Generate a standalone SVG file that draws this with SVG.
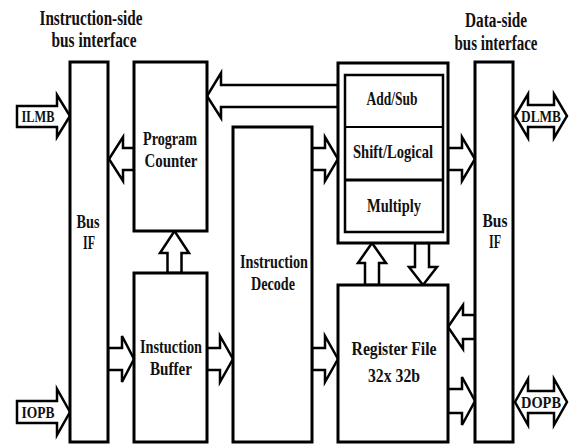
<svg xmlns="http://www.w3.org/2000/svg" width="571" height="445" viewBox="0 0 571 445">
<style>
.box{fill:#fff;stroke:#000;stroke-width:3}
.inner{fill:#fff;stroke:#000;stroke-width:2.5}
.arr{fill:#fff;stroke:#000;stroke-width:2.5;stroke-linejoin:miter}
.t{font-family:"Liberation Serif","Times New Roman",serif;font-weight:bold;fill:#111;text-anchor:middle}
.title{font-size:20px}
.lbl{font-size:19px}
.bus{font-size:16px}
</style>
<rect width="571" height="445" fill="#fff"/>
<g id="titles">
<text class="t title" x="91" y="25" textLength="103" lengthAdjust="spacingAndGlyphs">Instruction-side</text>
<text class="t title" x="94" y="47" textLength="85" lengthAdjust="spacingAndGlyphs">bus interface</text>
<text class="t title" x="496" y="27" textLength="62" lengthAdjust="spacingAndGlyphs">Data-side</text>
<text class="t title" x="496" y="50" textLength="83" lengthAdjust="spacingAndGlyphs">bus interface</text>
</g>
<g id="connectors">
<polygon class="arr" points="134,148 123,148 123,137 109,159 123,181 123,170 134,170"/>
<polygon class="arr" points="167.5,273 167.5,253 160,253 174.5,231 189,253 181.5,253 181.5,273"/>
<polygon class="arr" points="108,348 122,348 122,336 134,359 122,382 122,370 108,370"/>
<polygon class="arr" points="207,348 220,348 220,336 233,359 220,382 220,370 207,370"/>
<polygon class="arr" points="312,348 325,348 325,336 338,359 325,382 325,370 312,370"/>
<polygon class="arr" points="312,148 325,148 325,137 338,159 325,181 325,170 312,170"/>
<polygon class="arr" points="448,148 462,148 462,137 475,159 462,181 462,170 448,170"/>
<polygon class="arr" points="338,85 221,85 221,73 207,96 221,118 221,107 338,107"/>
<polygon class="arr" points="365,285 365,263 358,263 372,243 386,263 379,263 379,285"/>
<polygon class="arr" points="415,243 415,267 409,267 423,285 437,267 429,267 429,243"/>
<polygon class="arr" points="475,315 463,315 463,305 448,327 463,349 463,339 475,339"/>
<polygon class="arr" points="448,389 462,389 462,377 475,401 462,425 462,413 448,413"/>
</g>
<g id="ILMB">
<polygon class="arr" points="17,106 57,106 57,95 70,116 57,137 57,127 17,127"/>
<text class="t bus" x="38" y="122" textLength="33" lengthAdjust="spacingAndGlyphs">ILMB</text>
</g>
<g id="IOPB">
<polygon class="arr" points="17,401 57,401 57,389 70,412 57,435 57,423 17,423"/>
<text class="t bus" x="38" y="418" textLength="33" lengthAdjust="spacingAndGlyphs">IOPB</text>
</g>
<g id="DLMB">
<polygon class="arr" points="515,116 528,94 528,105 554,105 554,94 567,116 554,138 554,127 528,127 528,138"/>
<text class="t bus" x="541" y="122" textLength="40" lengthAdjust="spacingAndGlyphs">DLMB</text>
</g>
<g id="DOPB">
<polygon class="arr" points="515,402 528,379 528,391 554,391 554,379 567,402 554,425 554,413 528,413 528,425"/>
<text class="t bus" x="541" y="408" textLength="40" lengthAdjust="spacingAndGlyphs">DOPB</text>
</g>
<g id="busif-left">
<rect class="box" x="70" y="62" width="38" height="380"/>
<text class="t lbl" x="88" y="228" textLength="23" lengthAdjust="spacingAndGlyphs">Bus</text>
<text class="t lbl" x="89" y="249" textLength="12" lengthAdjust="spacingAndGlyphs">IF</text>
</g>
<g id="program-counter">
<rect class="box" x="134" y="62" width="73" height="169"/>
<text class="t lbl" x="170" y="145" textLength="54" lengthAdjust="spacingAndGlyphs">Program</text>
<text class="t lbl" x="171" y="167" textLength="53" lengthAdjust="spacingAndGlyphs">Counter</text>
</g>
<g id="instruction-buffer">
<rect class="box" x="134" y="273" width="73" height="169"/>
<text class="t lbl" x="171" y="353" textLength="62" lengthAdjust="spacingAndGlyphs">Instuction</text>
<text class="t lbl" x="171" y="375" textLength="42" lengthAdjust="spacingAndGlyphs">Buffer</text>
</g>
<g id="instruction-decode">
<rect class="box" x="233" y="127" width="79" height="315"/>
<text class="t lbl" x="274" y="268" textLength="68" lengthAdjust="spacingAndGlyphs">Instruction</text>
<text class="t lbl" x="273" y="290" textLength="44" lengthAdjust="spacingAndGlyphs">Decode</text>
</g>
<g id="alu">
<rect class="box" x="338" y="63" width="110" height="180"/>
<rect class="inner" x="345" y="75" width="98" height="157"/>
<line x1="345" y1="127" x2="443" y2="127" stroke="#000" stroke-width="2"/>
<line x1="345" y1="180" x2="443" y2="180" stroke="#000" stroke-width="3"/>
<text class="t lbl" x="392" y="105" textLength="51" lengthAdjust="spacingAndGlyphs">Add/Sub</text>
<text class="t lbl" x="393" y="158" textLength="80" lengthAdjust="spacingAndGlyphs">Shift/Logical</text>
<text class="t lbl" x="394" y="212" textLength="54" lengthAdjust="spacingAndGlyphs">Multiply</text>
</g>
<g id="register-file">
<rect class="box" x="338" y="285" width="110" height="157"/>
<text class="t lbl" x="394" y="355" textLength="85" lengthAdjust="spacingAndGlyphs">Register File</text>
<text class="t lbl" x="394" y="382" textLength="52" lengthAdjust="spacingAndGlyphs">32x 32b</text>
</g>
<g id="busif-right">
<rect class="box" x="475" y="62" width="38" height="380"/>
<text class="t lbl" x="495" y="227" textLength="25" lengthAdjust="spacingAndGlyphs">Bus</text>
<text class="t lbl" x="495" y="248" textLength="12" lengthAdjust="spacingAndGlyphs">IF</text>
</g>
</svg>
